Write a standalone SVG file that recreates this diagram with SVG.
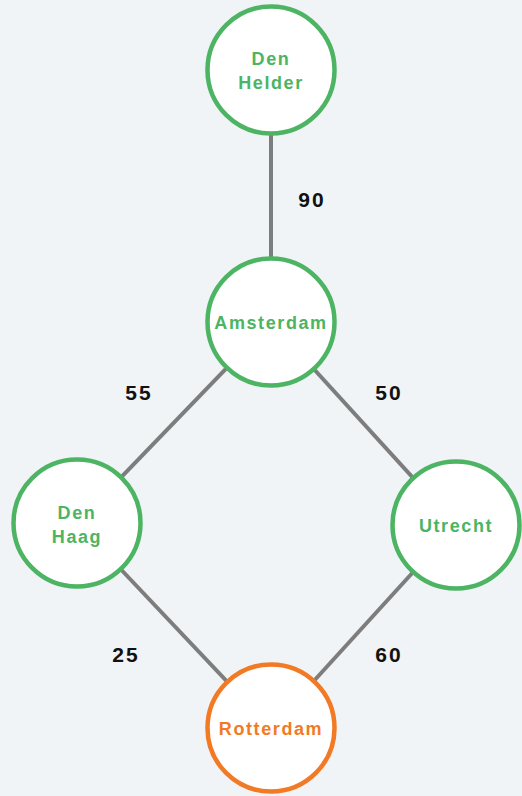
<svg xmlns="http://www.w3.org/2000/svg" width="522" height="796" viewBox="0 0 522 796">
<style>
.bg{fill:#f0f4f7}
.edge{stroke:#7d7d7d;stroke-width:4;fill:none}
.node{fill:#ffffff;stroke-width:4.5}
.g{stroke:#4cb462}
.o{stroke:#f27a25}
.lbl{font-family:"Liberation Sans",Arial,sans-serif;font-weight:bold;font-size:18px;letter-spacing:1.6px;text-anchor:middle}
.gt{fill:#4cb462}
.ot{fill:#f27a25}
.w{font-family:"Liberation Sans",Arial,sans-serif;font-weight:bold;font-size:21px;letter-spacing:2px;fill:#111111;text-anchor:middle}
</style>
<rect class="bg" x="0" y="0" width="522" height="796"/>
<g id="connectors">
<line class="edge" x1="271" y1="70" x2="271" y2="322"/>
<line class="edge" x1="271" y1="322" x2="77" y2="523"/>
<line class="edge" x1="271" y1="322" x2="456" y2="525"/>
<line class="edge" x1="77" y1="523" x2="271" y2="728"/>
<line class="edge" x1="456" y1="525" x2="271" y2="728"/>
<text class="w" x="312" y="207">90</text>
<text class="w" x="139" y="400">55</text>
<text class="w" x="389" y="400">50</text>
<text class="w" x="126" y="662">25</text>
<text class="w" x="389" y="662">60</text>
</g>
<g id="den-helder">
<circle class="node g" cx="271" cy="70" r="63.5"/>
<text class="lbl gt" x="271" y="65">Den</text>
<text class="lbl gt" x="271" y="89">Helder</text>
</g>
<g id="amsterdam">
<circle class="node g" cx="271" cy="322" r="63.5"/>
<text class="lbl gt" x="271" y="329">Amsterdam</text>
</g>
<g id="den-haag">
<circle class="node g" cx="77" cy="523" r="63.5"/>
<text class="lbl gt" x="77" y="519">Den</text>
<text class="lbl gt" x="77" y="543">Haag</text>
</g>
<g id="utrecht">
<circle class="node g" cx="456" cy="525" r="63.5"/>
<text class="lbl gt" x="456" y="532">Utrecht</text>
</g>
<g id="rotterdam">
<circle class="node o" cx="271" cy="728" r="63.5"/>
<text class="lbl ot" x="271" y="735">Rotterdam</text>
</g>
</svg>
